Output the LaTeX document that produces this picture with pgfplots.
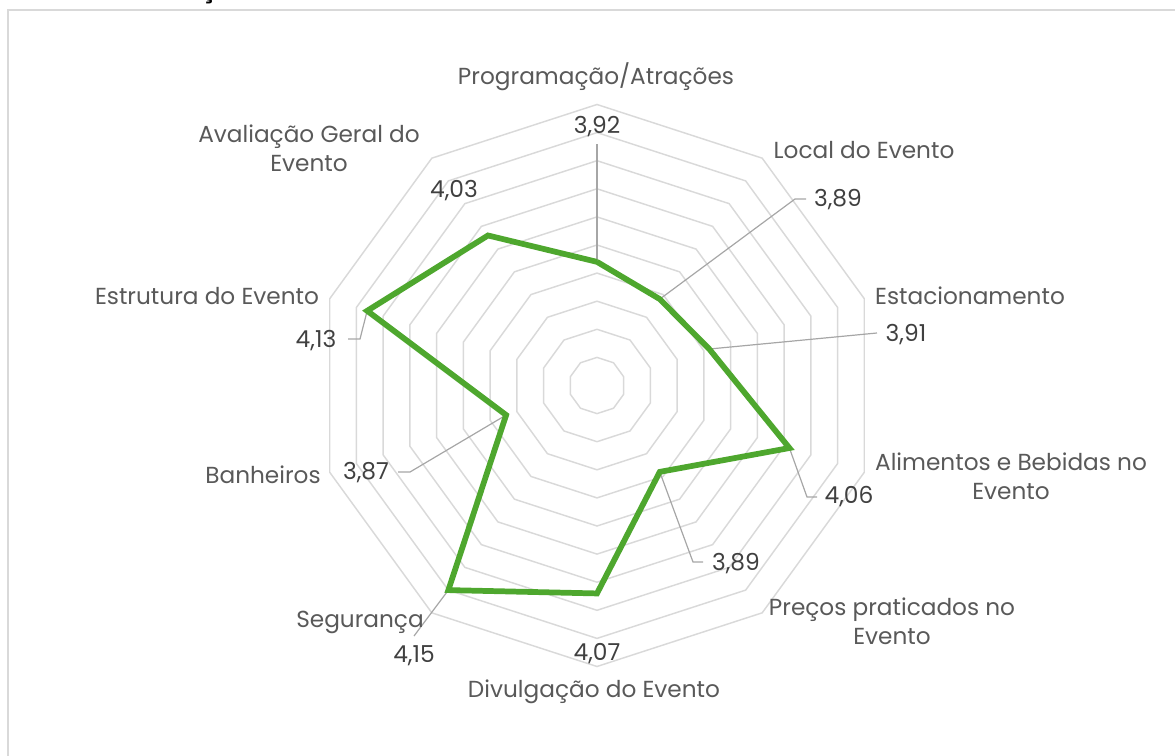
\documentclass[border=0pt]{standalone}
\usepackage{pgfplots}
\usepackage{pgfplotstable}
\pgfplotsset{compat=1.18}
\usepackage{fontspec}
\setmainfont{Poppins}
\definecolor{ringc}{HTML}{D9D9D9}
\definecolor{catc}{HTML}{595959}
\definecolor{valc}{HTML}{404040}
\definecolor{leadc}{HTML}{A6A6A6}
\definecolor{greenc}{HTML}{4EA72E}
\pgfplotstableread{
a v
90 3.92
54 3.89
18 3.91
-18 4.06
-54 3.89
-90 4.07
-126 4.15
-162 3.87
-198 4.13
-234 4.03
-270 3.92
}\radardata
\begin{document}
\begin{tikzpicture}[x=1pt,y=1pt,
  cat/.style={font=\fontsize{17.4}{21.6}\selectfont, text=catc, align=center, inner sep=0pt},
  val/.style={font=\fontsize{17.5}{20}\selectfont, text=valc, inner sep=0pt}]
\useasboundingbox (0,0) rectangle (881.25pt,567pt);
\clip (0,0) rectangle (881.25pt,567pt);
\begin{axis}[
  at={(0,0)}, anchor=south west,
  scale only axis, width=881.25pt, height=567pt,
  xmin=0, xmax=1175, ymin=0, ymax=756, y dir=reverse,
  hide axis, clip=false,
]
% frame
\draw[ringc, line width=1.5pt] (axis cs:7.5,790) -- (axis cs:7.5,10.5) -- (axis cs:1200,10.5);
% title (cut off at the top, as in the reference)
\node[anchor=base west, font=\bfseries\fontsize{15}{18}\selectfont, text=black, inner sep=0pt] at (axis cs:15,-1.5) {Gráfico 12 – Avaliação Geral do Evento};
% rings
\pgfplotsinvokeforeach{1,...,10}{
  \draw[ringc, line width=1.1pt, line join=miter]
    (axis cs:{597+28.1*#1*cos(90)},{385.5-28.1*#1*sin(90)})
    \foreach \ang in {126,162,...,414} { -- (axis cs:{597+28.1*#1*cos(\ang)},{385.5-28.1*#1*sin(\ang)}) } -- cycle;
}
% leader lines
\draw[leadc, line width=0.9pt] (axis cs:597,{385.5-562*0.22}) -- (axis cs:597,144);
\draw[leadc, line width=0.9pt] (axis cs:{597+562*0.19*cos(54)},{385.5-562*0.19*sin(54)}) -- (axis cs:795,199) -- (axis cs:806,199);
\draw[leadc, line width=0.9pt] (axis cs:{597+562*0.21*cos(18)},{385.5-562*0.21*sin(18)}) -- (axis cs:877,333);
\draw[leadc, line width=0.9pt] (axis cs:{597+562*0.36*cos(-18)},{385.5-562*0.36*sin(-18)}) -- (axis cs:807,497) -- (axis cs:817,497);
\draw[leadc, line width=0.9pt] (axis cs:{597+562*0.19*cos(-54)},{385.5-562*0.19*sin(-54)}) -- (axis cs:693,562) -- (axis cs:703,562);
\draw[leadc, line width=0.9pt] (axis cs:{597+562*0.45*cos(-126)},{385.5-562*0.45*sin(-126)}) -- (axis cs:414,636);
\draw[leadc, line width=0.9pt] (axis cs:{597+562*0.17*cos(-162)},{385.5-562*0.17*sin(-162)}) -- (axis cs:410,472) -- (axis cs:398,472);
\draw[leadc, line width=0.9pt] (axis cs:{597+562*0.43*cos(162)},{385.5-562*0.43*sin(162)}) -- (axis cs:360,339) -- (axis cs:348,339);
% data
\addplot[greenc, line width=4.3pt, line join=miter, mark=none]
  table[x expr={597+562*(\thisrow{v}-3.7)*cos(\thisrow{a})}, y expr={385.5-562*(\thisrow{v}-3.7)*sin(\thisrow{a})}] {\radardata};
% category labels
\node[cat] at (axis cs:596,77) {Programação/Atrações};
\node[cat] at (axis cs:864,150) {Local do Evento};
\node[cat] at (axis cs:970,296) {Estacionamento};
\node[cat] at (axis cs:1011,476) {Alimentos e Bebidas no\\Evento};
\node[cat] at (axis cs:892,621) {Preços praticados no\\Evento};
\node[cat] at (axis cs:594,692) {Divulgação do Evento};
\node[cat] at (axis cs:360,622) {Segurança};
\node[cat] at (axis cs:263,475) {Banheiros};
\node[cat] at (axis cs:207,296) {Estrutura do Evento};
\node[cat] at (axis cs:309,148) {Avaliação Geral do\\Evento};
% value labels
\node[val] at (axis cs:597,127) {3,92};
\node[val] at (axis cs:838,200) {3,89};
\node[val] at (axis cs:906,335) {3,91};
\node[val] at (axis cs:849,497) {4,06};
\node[val] at (axis cs:736,564) {3,89};
\node[val] at (axis cs:597,654) {4,07};
\node[val] at (axis cs:414,656) {4,15};
\node[val] at (axis cs:366,473) {3,87};
\node[val] at (axis cs:316,341) {4,13};
\node[val] at (axis cs:454,191) {4,03};
\end{axis}
\end{tikzpicture}
\end{document}
